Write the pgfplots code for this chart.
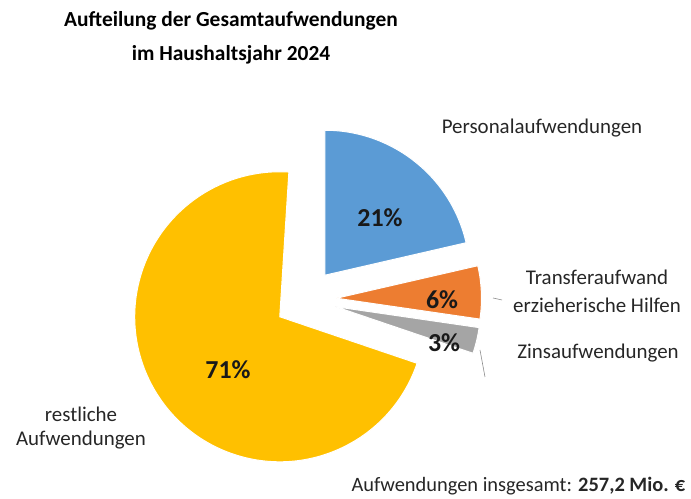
\documentclass[border=0pt]{standalone}
\usepackage{pgfplots}
\pgfplotsset{compat=1.18}
\usepackage{pgfplotstable}
\usepackage{fontspec}
\setmainfont{Carlito}

\definecolor{cBlue}{HTML}{5B9BD5}
\definecolor{cOrange}{HTML}{ED7D31}
\definecolor{cGray}{HTML}{A5A5A5}
\definecolor{cGold}{HTML}{FFC000}

% shares of total expenditure in percent
\pgfplotstableread{
value
21.4
5.9
2.9
70.8
}\aufwand

\pgfplotstablegetelem{0}{value}\of\aufwand \let\vPers\pgfplotsretval
\pgfplotstablegetelem{1}{value}\of\aufwand \let\vTrans\pgfplotsretval
\pgfplotstablegetelem{2}{value}\of\aufwand \let\vZins\pgfplotsretval
\pgfplotstablegetelem{3}{value}\of\aufwand \let\vRest\pgfplotsretval

\pgfmathsetmacro\sPers{0}
\pgfmathsetmacro\sTrans{\vPers}
\pgfmathsetmacro\sZins{\vPers+\vTrans}
\pgfmathsetmacro\sRest{\vPers+\vTrans+\vZins}

% #1 start (percent), #2 share (percent), #3 colour
\newcommand{\pieslice}[3]{%
  \pgfmathsetmacro\sa{90-3.6*#1}%
  \pgfmathsetmacro\ea{90-3.6*(#1+#2)}%
  \pgfmathsetmacro\ma{(\sa+\ea)/2}%
  \pgfmathsetmacro\px{305.5+31*cos(\ma)}%
  \pgfmathsetmacro\py{197.5+31*sin(\ma)}%
  \edef\doslice{\noexpand\fill[#3, draw=white, line width=1bp]
    (axis cs:\px,\py) -- ++(\sa:145bp)
    arc[start angle=\sa, end angle=\ea, radius=145bp] -- cycle;}%
  \doslice
}
\newcommand{\pct}[1]{\pgfmathprintnumber[fixed,precision=0,assume math mode=true]{#1}\%}

\begin{document}
\begin{tikzpicture}
\begin{axis}[
    scale only axis,
    width=691bp, height=497bp,
    xmin=0, xmax=691, ymin=0, ymax=497,
    hide axis, clip=false,
]
\path (axis cs:0,0) rectangle (axis cs:691,497);

\pieslice{\sPers}{\vPers}{cBlue}
\pieslice{\sTrans}{\vTrans}{cOrange}
\pieslice{\sZins}{\vZins}{cGray}
\pieslice{\sRest}{\vRest}{cGold}

% value labels
\node[font=\fontsize{26}{30}\selectfont\bfseries, text=black!90] at (axis cs:380,279) {\pct{\vPers}};
\node[font=\fontsize{26}{30}\selectfont\bfseries, text=black!90] at (axis cs:442,197) {\pct{\vTrans}};
\node[font=\fontsize{26}{30}\selectfont\bfseries, text=black!90] at (axis cs:444,154) {\pct{\vZins}};
\node[font=\fontsize{26}{30}\selectfont\bfseries, text=black!90] at (axis cs:228,127) {\pct{\vRest}};

% leader lines
\draw[black!45, line width=0.6bp] (axis cs:493,199) -- (axis cs:502,197);
\draw[black!45, line width=0.6bp] (axis cs:480,147) -- (axis cs:485,120);

% category labels
\node[font=\fontsize{21}{28}\selectfont, text=black!85] at (axis cs:542,369) {Personalaufwendungen};
\node[font=\fontsize{21}{28}\selectfont, text=black!85, align=center] at (axis cs:597,206) {Transferaufwand\\erzieherische Hilfen};
\node[font=\fontsize{21}{28}\selectfont, text=black!85] at (axis cs:598,144) {Zinsaufwendungen};
\node[font=\fontsize{21}{24}\selectfont, text=black!85, align=center] at (axis cs:81,69) {restliche\\Aufwendungen};

% title and total
\node[font=\fontsize{21.5}{34}\selectfont\bfseries, align=center, text=black]
  at (axis cs:231,459) {Aufteilung der Gesamtaufwendungen\\im Haushaltsjahr 2024};
\node[font=\fontsize{20.5}{24}\selectfont, text=black!85, anchor=west] at (axis cs:348,11) {Aufwendungen insgesamt: \textbf{257,2 Mio. €}};
\end{axis}
\end{tikzpicture}
\end{document}
